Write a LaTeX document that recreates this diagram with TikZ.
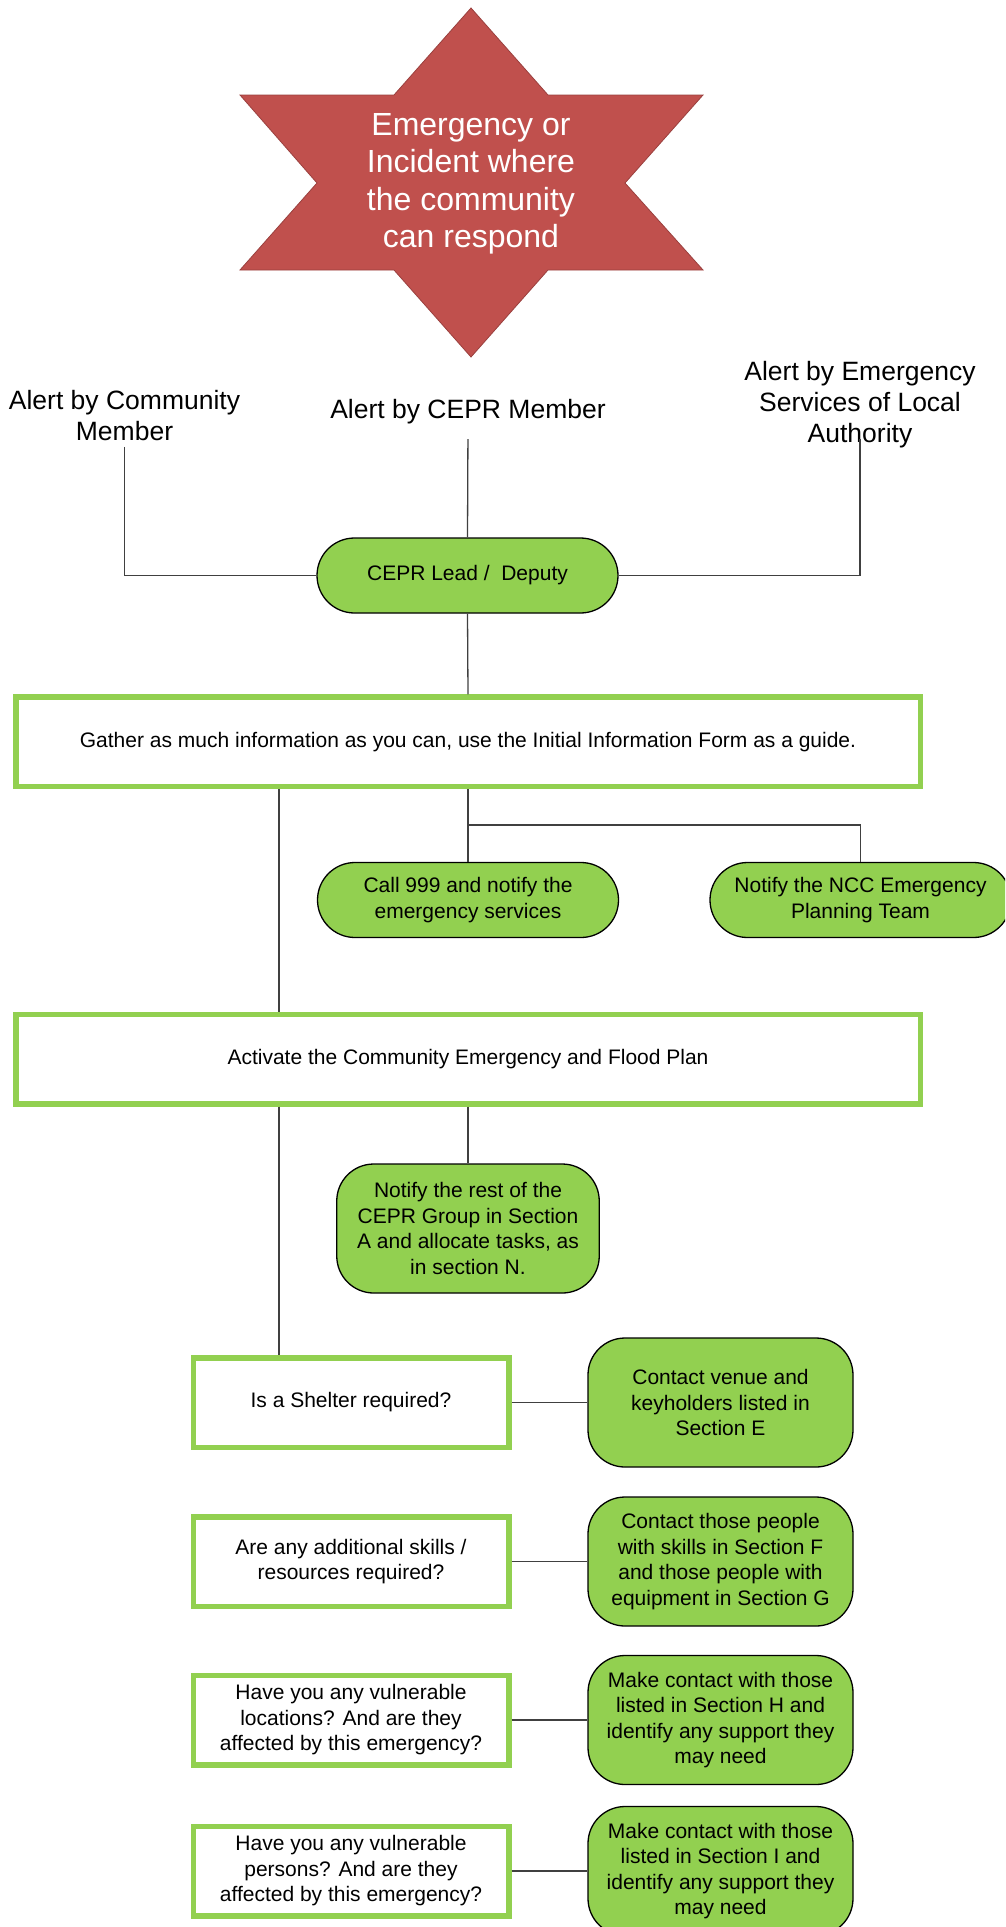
\documentclass[tikz,border=0pt]{standalone}
\usepackage{fontspec}
\setmainfont{Liberation Sans}
\definecolor{leafgreen}{HTML}{92D050}
\definecolor{alarmred}{HTML}{C0504D}
\begin{document}
\begin{tikzpicture}[
    x=1pt, y=-1pt,
    stepbox/.style={rectangle, draw=leafgreen, line width=5.5pt, fill=white, minimum height=89.5pt, align=center, font=\fontsize{21}{25.5}\selectfont},
    widebox/.style={stepbox, minimum width=904.5pt},
    askbox/.style={stepbox, minimum width=315.5pt},
    pill/.style={rectangle, draw=black, line width=1.3pt, fill=leafgreen, rounded corners=37pt, align=center, font=\fontsize{21}{25.5}\selectfont},
    shortpill/.style={pill, minimum width=301pt, minimum height=75pt, rounded corners=37.5pt},
    tallpill/.style={pill, minimum width=265pt, minimum height=129pt},
    alert/.style={inner sep=0pt, align=center, font=\fontsize{26.5}{31}\selectfont},
    link/.style={draw=black!75, line width=1.3pt}
]
\useasboundingbox (0,0) rectangle (1005,1927);
\clip (0,0) rectangle (1005,1927);
% Incident star
\filldraw[fill=alarmred, draw=alarmred!80!black, line width=0.8pt]
    (471,8) -- (548,95) -- (703,95) -- (625,183) -- (703,270) -- (548,270) -- (471,357)
    -- (394,270) -- (240,270) -- (317,183) -- (240,95) -- (394,95) -- cycle;
\node[align=center, text=white, font=\fontsize{32}{37.5}\selectfont] (incident) at (471,184) {Emergency or\\Incident where\\the community\\can respond};
% Alerts
\node[alert] (alertcomm) at (124.5,416) {Alert by Community\\Member};
\node[alert] (alertcepr) at (468,411.5) {Alert by CEPR Member};
\node[alert] (alertes) at (860,405) {Alert by Emergency\\Services of Local\\Authority};
% Lead
\node[shortpill] (lead) at (467.5,575.5) {CEPR Lead /\ \ Deputy};
% Gather and notify
\node[widebox] (gather) at (468,741.75) {Gather as much information as you can, use the Initial Information Form as a guide.};
\node[shortpill] (call) at (468,900) {Call 999 and notify the\\emergency services};
\node[shortpill] (ncc) at (860.5,900) {Notify the NCC Emergency\\Planning Team};
% Activate plan
\node[widebox] (activate) at (468,1059) {Activate the Community Emergency and Flood Plan};
\node[tallpill, minimum width=262.5pt] (notify) at (468,1228.5) {Notify the rest of the\\CEPR Group in Section\\A and allocate tasks, as\\in section N.};
% Questions
\node[askbox] (shelter) at (351,1402.5) {Is a Shelter required?};
\node[tallpill] (venue) at (720.5,1402.5) {Contact venue and\\keyholders listed in\\Section E};
\node[askbox] (skills) at (351,1561.5) {Are any additional skills /\\resources required?};
\node[tallpill] (skillpill) at (720.5,1561.5) {Contact those people\\with skills in Section F\\and those people with\\equipment in Section G};
\node[askbox] (places) at (351,1720) {Have you any vulnerable\\locations? And are they\\affected by this emergency?};
\node[tallpill] (placepill) at (720.5,1720) {Make contact with those\\listed in Section H and\\identify any support they\\may need};
\node[askbox] (people) at (351,1871) {Have you any vulnerable\\persons? And are they\\affected by this emergency?};
\node[tallpill] (peoplepill) at (720.5,1871) {Make contact with those\\listed in Section I and\\identify any support they\\may need};
% Connectors
\coordinate (split) at (468,825);
\coordinate (trunk) at (279,0);
\draw[link, shorten <=5.5pt] (alertcomm.south) |- (lead.west);
\draw[link, shorten <=15pt] (alertcepr.south) -- (lead.north);
\draw[link, shorten <=-9.3pt] (alertes.south) |- (lead.east);
\draw[link] (lead.south) -- (gather.north);
\draw[link] (gather.south) -- (call.north);
\draw[link] (split) -| (ncc.north);
\draw[link] (trunk |- gather.south) -- (trunk |- activate.north);
\draw[link] (activate.south) -- (notify.north);
\draw[link] (trunk |- activate.south) -- (trunk |- shelter.north);
\draw[link] (shelter.east) -- (venue.west);
\draw[link] (skills.east) -- (skillpill.west);
\draw[link] (places.east) -- (placepill.west);
\draw[link] (people.east) -- (peoplepill.west);
\end{tikzpicture}
\end{document}
